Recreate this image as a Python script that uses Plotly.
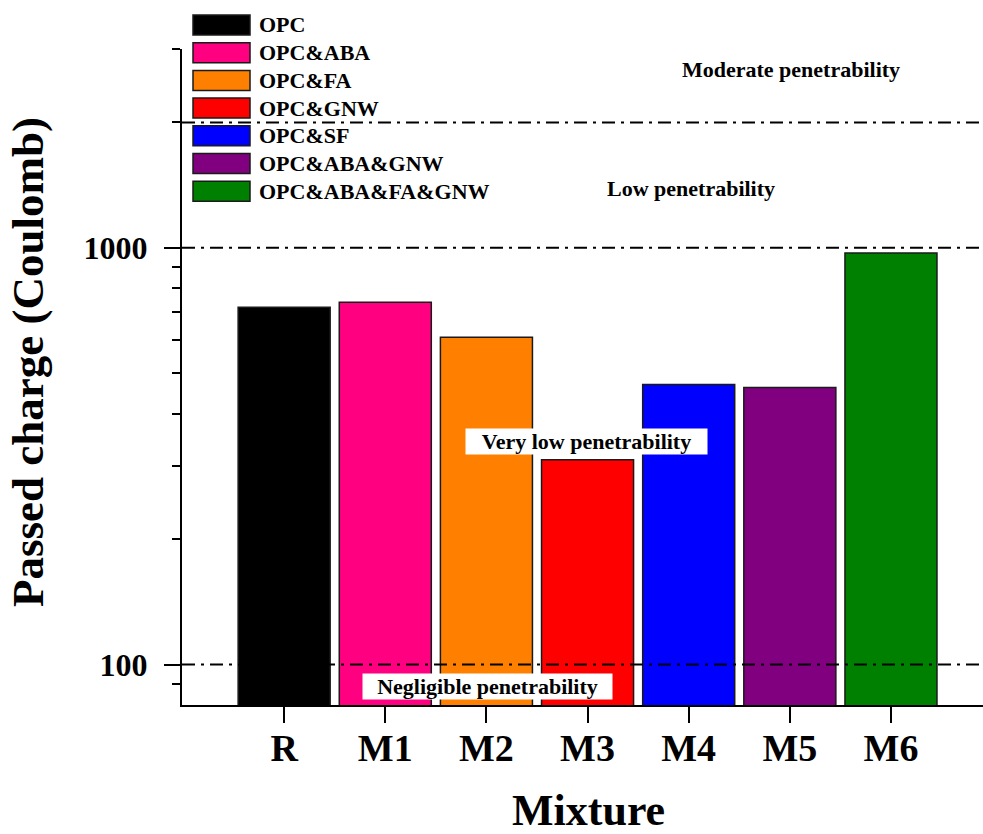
import math
import plotly.graph_objects as go

# Rapid chloride penetration results per mixture
mixtures = ["R", "M1", "M2", "M3", "M4", "M5", "M6"]
passed_charge = [720, 740, 610, 310, 470, 462, 972]
series_names = ["OPC", "OPC&ABA", "OPC&FA", "OPC&GNW", "OPC&SF",
                "OPC&ABA&GNW", "OPC&ABA&FA&GNW"]
bar_colors = ["#000000", "#FF0080", "#FF8000", "#FF0000", "#0000FF",
              "#800080", "#008000"]

# ASTM C1202 class limits (Coulomb) and their labels
limits = [100, 1000, 2000]
class_labels = ["Moderate penetrability", "Low penetrability",
                "Very low penetrability", "Negligible penetrability"]

major_ticks = [100, 1000]
minor_ticks = [90, 200, 300, 400, 500, 600, 700, 800, 900, 2000, 3000]
y_range = [80, 3000]

W, H = 983, 834
L, R, T, B = 182, 0, 49, 129
FONT = "Liberation Serif"


def px_x(p):
    return (p - L) / (W - L - R)


def px_y(p):
    return (H - B - p) / (H - B - T)


def label(x, y, text, size, **kw):
    d = dict(xref="paper", yref="paper", x=px_x(x), y=px_y(y),
             xanchor="center", yanchor="middle", showarrow=False,
             text="<b>%s</b>" % text,
             font=dict(family=FONT, size=size, color="black"))
    d.update(kw)
    return d


fig = go.Figure()
fig.add_trace(go.Bar(
    x=mixtures,
    y=passed_charge,
    width=0.91,
    marker=dict(color=bar_colors, line=dict(color="#1a1a1a", width=1.5)),
    showlegend=False,
))

shapes = []
for v in limits:
    shapes.append(dict(type="line", xref="paper", yref="y", x0=0, x1=1,
                       y0=v, y1=v, layer="above",
                       line=dict(color="black", width=2, dash="13px,6px,3px,6px")))

annotations = []
# Legend drawn as wide swatches with labels
for i, (name, col) in enumerate(zip(series_names, bar_colors)):
    cy = 25 + i * 27.7
    shapes.append(dict(type="rect", xref="paper", yref="paper",
                       x0=px_x(193), x1=px_x(250),
                       y0=px_y(cy - 10), y1=px_y(cy + 10),
                       fillcolor=col, line=dict(color="#1a1a1a", width=1.5),
                       layer="above"))
    annotations.append(label(257, cy, name, 22, xanchor="left"))

# Penetrability class labels
annotations.append(label(791, 70, class_labels[0], 22))
annotations.append(label(691, 188, class_labels[1], 22))
annotations.append(label(586.5, 441.5, class_labels[2], 22,
                         width=241, height=25, borderpad=0, bgcolor="white"))
annotations.append(label(487.5, 686, class_labels[3], 22,
                         width=249, height=25, borderpad=0, bgcolor="white"))

# Axis titles
annotations.append(label(28, 362, "Passed charge (Coulomb)", 45, textangle=-90))
annotations.append(label(588, 810, "Mixture", 44, height=44, borderpad=0))

fig.update_layout(
    width=W, height=H,
    margin=dict(l=L, r=R, t=T, b=B, pad=0),
    plot_bgcolor="white", paper_bgcolor="white",
    shapes=shapes, annotations=annotations,
    bargap=0.09,
)
fig.update_xaxes(
    type="category", range=[-1.01, 6.91],
    showline=True, linecolor="black", linewidth=2,
    ticks="outside", ticklen=16, tickwidth=2, tickcolor="black",
    ticklabelstandoff=-8,
    tickfont=dict(family=FONT, size=38, color="black", weight="bold"),
    showgrid=False, zeroline=False,
)
fig.update_yaxes(
    type="log", range=[math.log10(y_range[0]), math.log10(y_range[1])],
    showline=True, linecolor="black", linewidth=2,
    tickmode="array", tickvals=major_ticks, ticktext=[str(v) for v in major_ticks],
    ticks="outside", ticklen=16, tickwidth=2, tickcolor="black",
    ticklabelstandoff=10,
    tickfont=dict(family=FONT, size=32, color="black", weight="bold"),
    minor=dict(tickmode="array", tickvals=minor_ticks, ticks="outside",
               ticklen=8, tickwidth=2, tickcolor="black", showgrid=False),
    showgrid=False, zeroline=False,
)

fig.write_html("out.html")
